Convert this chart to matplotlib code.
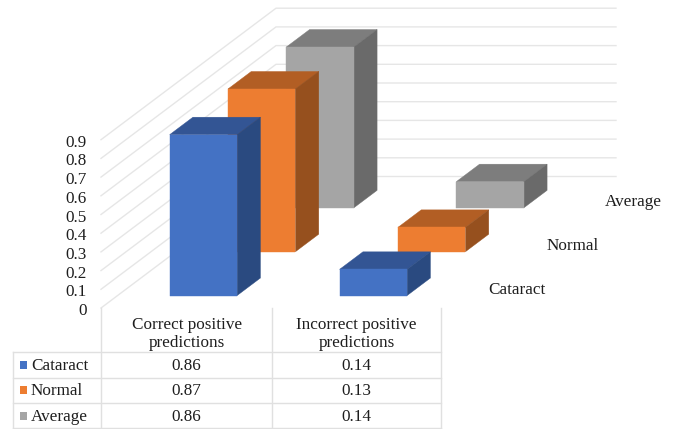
import matplotlib
matplotlib.use("Agg")
import matplotlib.pyplot as plt
from matplotlib.patches import Polygon

plt.rcParams['font.family'] = ['Liberation Serif', 'DejaVu Serif']

categories = ["Correct positive\npredictions", "Incorrect positive\npredictions"]
series = ["Cataract", "Normal", "Average"]
cataract = [0.86, 0.14]
normal = [0.87, 0.13]
average = [0.86, 0.14]
value_table = [cataract, normal, average]
y_ticks = [0, 0.1, 0.2, 0.3, 0.4, 0.5, 0.6, 0.7, 0.8, 0.9]

front_col = ['#4472C4', '#ED7D31', '#A5A5A5']
top_col = ['#335594', '#B25E24', '#7D7D7D']
side_col = ['#2A4A80', '#96501E', '#6A6A6A']
grid_col = '#E6E6E6'
line_col = '#E0E0E0'
text_col = '#1E1E1E'

# oblique chart frame, in image pixels
X0, Y0 = 101, 308
CAT_W = 170
DEPTH_X, DEPTH_Y = 175, 131.5
PER_UNIT = 187
BAR_W = 0.397
BAR_D = 0.133


def project(x, d, v):
    # x in category units, d is depth 0-1, v is the value
    return (X0 + x * CAT_W + d * DEPTH_X, Y0 - d * DEPTH_Y - v * PER_UNIT)


def draw_bar(ax, cat, ser, val):
    x1 = cat + 0.306
    x2 = x1 + BAR_W
    d1 = ser / 3 + 0.095
    d2 = d1 + BAR_D
    faces = [
        ([(x1, d1, val), (x2, d1, val), (x2, d2, val), (x1, d2, val)], top_col[ser]),
        ([(x2, d1, 0), (x2, d2, 0), (x2, d2, val), (x2, d1, val)], side_col[ser]),
        ([(x1, d1, 0), (x2, d1, 0), (x2, d1, val), (x1, d1, val)], front_col[ser]),
    ]
    for pts, col in faces:
        ax.add_patch(Polygon([project(*p) for p in pts], closed=True, fc=col, ec=col, lw=0.3, zorder=3))


fig = plt.figure(figsize=(6.75, 4.29), dpi=100)
ax = fig.add_axes([0, 0, 1, 1])
ax.set_xlim(0, 675)
ax.set_ylim(429, 0)
ax.axis('off')

# walls
for t in y_ticks:
    pts = [project(0, 0, t), project(0, 1, t), project(2, 1, t)]
    ax.plot([p[0] for p in pts], [p[1] for p in pts], color=grid_col, lw=1.0, zorder=1)
    px, py = project(0, 0, t)
    ax.text(px - 14, py + 3, str(t), ha='right', va='center', fontsize=12.3, color=text_col)

# bars, back to front
for s in [2, 1, 0]:
    for c in range(2):
        draw_bar(ax, c, s, value_table[s][c])

# depth axis labels
for s, name in enumerate(series):
    px, py = project(2, s / 3 + 1 / 6, 0)
    ax.text(px + 18, py + 3.5, name, ha='left', va='center', fontsize=12.3, color=text_col)

# data table
col_x = [12.5, 101, 271.5, 440.5]
row_y = [352.3, 377.7, 403, 428.3]
for y in row_y:
    ax.plot([col_x[0], col_x[-1]], [y, y], color=line_col, lw=1.0, zorder=1)
ax.plot([col_x[0], col_x[0]], [row_y[0], row_y[-1]], color=line_col, lw=1.0, zorder=1)
for x in col_x[1:]:
    ax.plot([x, x], [Y0, row_y[-1]], color=line_col, lw=1.0, zorder=1)

for c, name in enumerate(categories):
    ax.text((col_x[c + 1] + col_x[c + 2]) / 2 + 0.5, 334, name, ha='center', va='center',
            fontsize=12.3, color=text_col, linespacing=1.2)

for s, name in enumerate(series):
    yc = (row_y[s] + row_y[s + 1]) / 2
    ax.add_patch(Polygon([(19.5, yc - 4), (27, yc - 4), (27, yc + 4), (19.5, yc + 4)], closed=True,
                         fc=front_col[s], ec='none', zorder=3))
    ax.text(31, yc + 1, name, ha='left', va='center', fontsize=12.3, color=text_col)
    for c in range(2):
        ax.text((col_x[c + 1] + col_x[c + 2]) / 2, yc + 1, f"{value_table[s][c]:.2f}",
                ha='center', va='center', fontsize=12.3, color=text_col)

fig.savefig("out.png", dpi=100)
